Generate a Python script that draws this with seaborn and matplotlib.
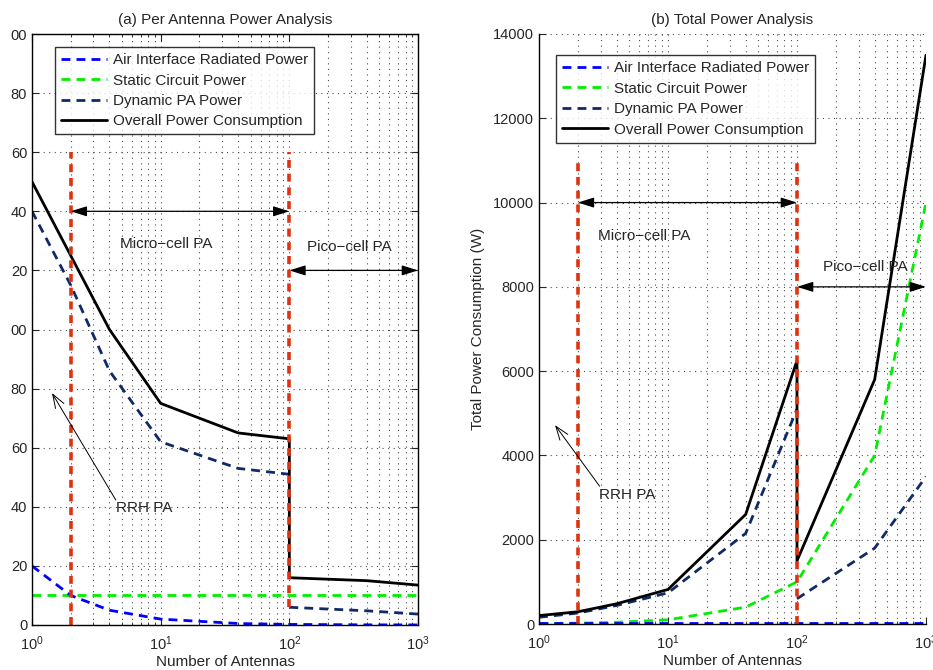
import numpy as np
import pandas as pd
import seaborn as sns
import matplotlib.pyplot as plt
from matplotlib.lines import Line2D
from matplotlib.ticker import FixedLocator, LogLocator, NullFormatter

sns.set_style("ticks")
plt.rcParams['font.family'] = ['Liberation Sans', 'DejaVu Sans']
plt.rcParams['mathtext.fontset'] = 'custom'
plt.rcParams['mathtext.rm'] = 'Liberation Sans'
plt.rcParams['font.size'] = 11

# number of antennas
n_all = [1, 2, 4, 10, 40, 100, 400, 1000]
n_micro = [1, 2, 4, 10, 40, 100]
n_pico = [100, 400, 1000]
n_overall = [1, 2, 4, 10, 40, 100, 100, 400, 1000]

# (a) per antenna power (W)
air_a = [20, 10, 5, 2, 0.5, 0.2, 0.05, 0.02]
static_a = [10, 10, 10, 10, 10, 10, 10, 10]
dyn_micro_a = [140, 115, 86, 62, 53, 51]
dyn_pico_a = [6, 4.8, 3.7]
overall_a = [150, 125, 100, 75, 65, 63, 16, 15, 13.5]

# (b) total power (W)
air_b = [30, 30, 30, 30, 30, 30, 30, 30]
static_b = [10, 20, 40, 100, 400, 1000, 4000, 10000]
dyn_micro_b = [160, 260, 440, 740, 2150, 5100]
dyn_pico_b = [600, 1800, 3500]
overall_b = [200, 290, 480, 820, 2600, 6250, 1500, 5800, 13500]

# boundaries between PA classes
bound_n = [2, 100]
bound_a = [[0, 160], [6, 160]]
bound_b = [[0, 11000], [0, 11000]]

yticks_a = [0, 20, 40, 60, 80, 100, 120, 140, 160, 180, 200]
ytick_labels_a = ["0", "20", "40", "60", "80", "00", "20", "40", "60", "80", "00"]
yticks_b = [0, 2000, 4000, 6000, 8000, 10000, 12000, 14000]

labels = ["Air Interface Radiated Power", "Static Circuit Power",
          "Dynamic PA Power", "Overall Power Consumption"]
c_air = "#0000ff"
c_static = "#00ee00"
c_dyn = "#0f2a66"
c_red = "#dd3311"
dash = (0, (3.2, 2.2))
grid_ls = (0, (1, 4))

fig = plt.figure(figsize=(9.33, 6.70), dpi=100)
ax1 = fig.add_axes([32 / 933, 1 - 625 / 670, 386 / 933, 591 / 670])
ax2 = fig.add_axes([539 / 933, 1 - 624 / 670, 387 / 933, 590 / 670])


def line(ax, x, y, color, ls="-", lw=2.0):
    sns.lineplot(x=x, y=y, ax=ax, color=color, linestyle=ls, lw=lw,
                 sort=False, estimator=None)


for ax, air, static, dm, dp, ov, bnd in [
        (ax1, air_a, static_a, dyn_micro_a, dyn_pico_a, overall_a, bound_a),
        (ax2, air_b, static_b, dyn_micro_b, dyn_pico_b, overall_b, bound_b)]:
    ax.set_xscale("log")
    line(ax, n_all, static, c_static, dash)
    line(ax, n_all, air, c_air, dash)
    line(ax, n_micro, dm, c_dyn, dash)
    line(ax, n_pico, dp, c_dyn, dash)
    line(ax, n_overall, ov, "black", "-", 2.0)
    for n, yy in zip(bound_n, bnd):
        line(ax, [n, n], yy, c_red, (0, (2.2, 1.6)), 2.6)

    ax.set_xlim(1, 1000)
    ax.xaxis.set_major_locator(LogLocator(base=10, numticks=10))
    ax.xaxis.set_minor_locator(LogLocator(base=10, subs=np.arange(2, 10), numticks=10))
    ax.xaxis.set_minor_formatter(NullFormatter())
    ax.grid(True, which="major", axis="both", ls=grid_ls, color="0.3", lw=0.8)
    ax.grid(True, which="minor", axis="x", ls=grid_ls, color="0.3", lw=0.8)
    ax.set_axisbelow(True)
    ax.set_xlabel("Number of Antennas", labelpad=1, fontsize=11)
    ax.set_ylabel("")
    for s in ax.spines.values():
        s.set_linewidth(1.0)
        s.set_color("black")

    handles = [Line2D([], [], color=c_air, ls=dash, lw=2),
               Line2D([], [], color=c_static, ls=dash, lw=2),
               Line2D([], [], color=c_dyn, ls=dash, lw=2),
               Line2D([], [], color="black", lw=2)]
    anchor = (0.0596, 0.978) if ax is ax1 else (0.044, 0.964)
    leg = ax.legend(handles, labels, loc="upper left", bbox_to_anchor=anchor,
                    borderaxespad=0, frameon=True, fancybox=False,
                    handlelength=3.0, labelspacing=0.42, handletextpad=0.4,
                    borderpad=0.4, fontsize=11)
    leg.get_frame().set_edgecolor("black")
    leg.get_frame().set_linewidth(1.0)

    ax.tick_params(which="both", direction="in", labelsize=10.5)
    ax.tick_params(which="major", length=5)
    ax.tick_params(which="minor", length=2.5)
    ax.tick_params(axis="x", which="major", pad=7)

# left panel
ax1.set_ylim(0, 200)
ax1.yaxis.set_major_locator(FixedLocator(yticks_a))
ax1.set_yticklabels(ytick_labels_a)
ax1.tick_params(which="both", top=True, right=True)
ax1.set_title("(a) Per Antenna Power Analysis", fontsize=11, pad=7)

# right panel
ax2.set_ylim(0, 14000)
ax2.yaxis.set_major_locator(FixedLocator(yticks_b))
ax2.spines["top"].set_visible(False)
ax2.spines["right"].set_visible(False)
ax2.set_ylabel("Total Power Consumption (W)", labelpad=6, fontsize=11)
ax2.set_title("(b) Total Power Analysis", fontsize=11, pad=7)

dbl = dict(arrowstyle="<|-|>,head_length=0.7,head_width=0.22", color="black",
           lw=0.9, shrinkA=0, shrinkB=0, mutation_scale=14)
one = dict(arrowstyle="->,head_length=0.7,head_width=0.25", color="black",
           lw=0.7, shrinkA=0, shrinkB=0, mutation_scale=14)

ax1.annotate("", xy=(2, 140), xytext=(100, 140), arrowprops=dbl)
ax1.annotate("", xy=(100, 120), xytext=(1000, 120), arrowprops=dbl, annotation_clip=False)
ax1.text(4.8, 129, "Micro\u2212cell PA", ha="left", va="center")
ax1.text(138, 128, "Pico\u2212cell PA", ha="left", va="center")
ax1.annotate("", xy=(1.43, 78.5), xytext=(4.48, 42.3), arrowprops=one)
ax1.text(4.48, 39.6, "RRH PA", ha="left", va="center")

ax2.annotate("", xy=(2, 10000), xytext=(100, 10000), arrowprops=dbl)
ax2.annotate("", xy=(100, 8000), xytext=(1000, 8000), arrowprops=dbl, annotation_clip=False)
ax2.text(2.88, 9200, "Micro\u2212cell PA", ha="left", va="center")
ax2.text(159, 8470, "Pico\u2212cell PA", ha="left", va="center")
ax2.annotate("", xy=(1.33, 4720), xytext=(2.95, 3270), arrowprops=one)
ax2.text(2.93, 3060, "RRH PA", ha="left", va="center")

fig.savefig("out.png", dpi=100)
